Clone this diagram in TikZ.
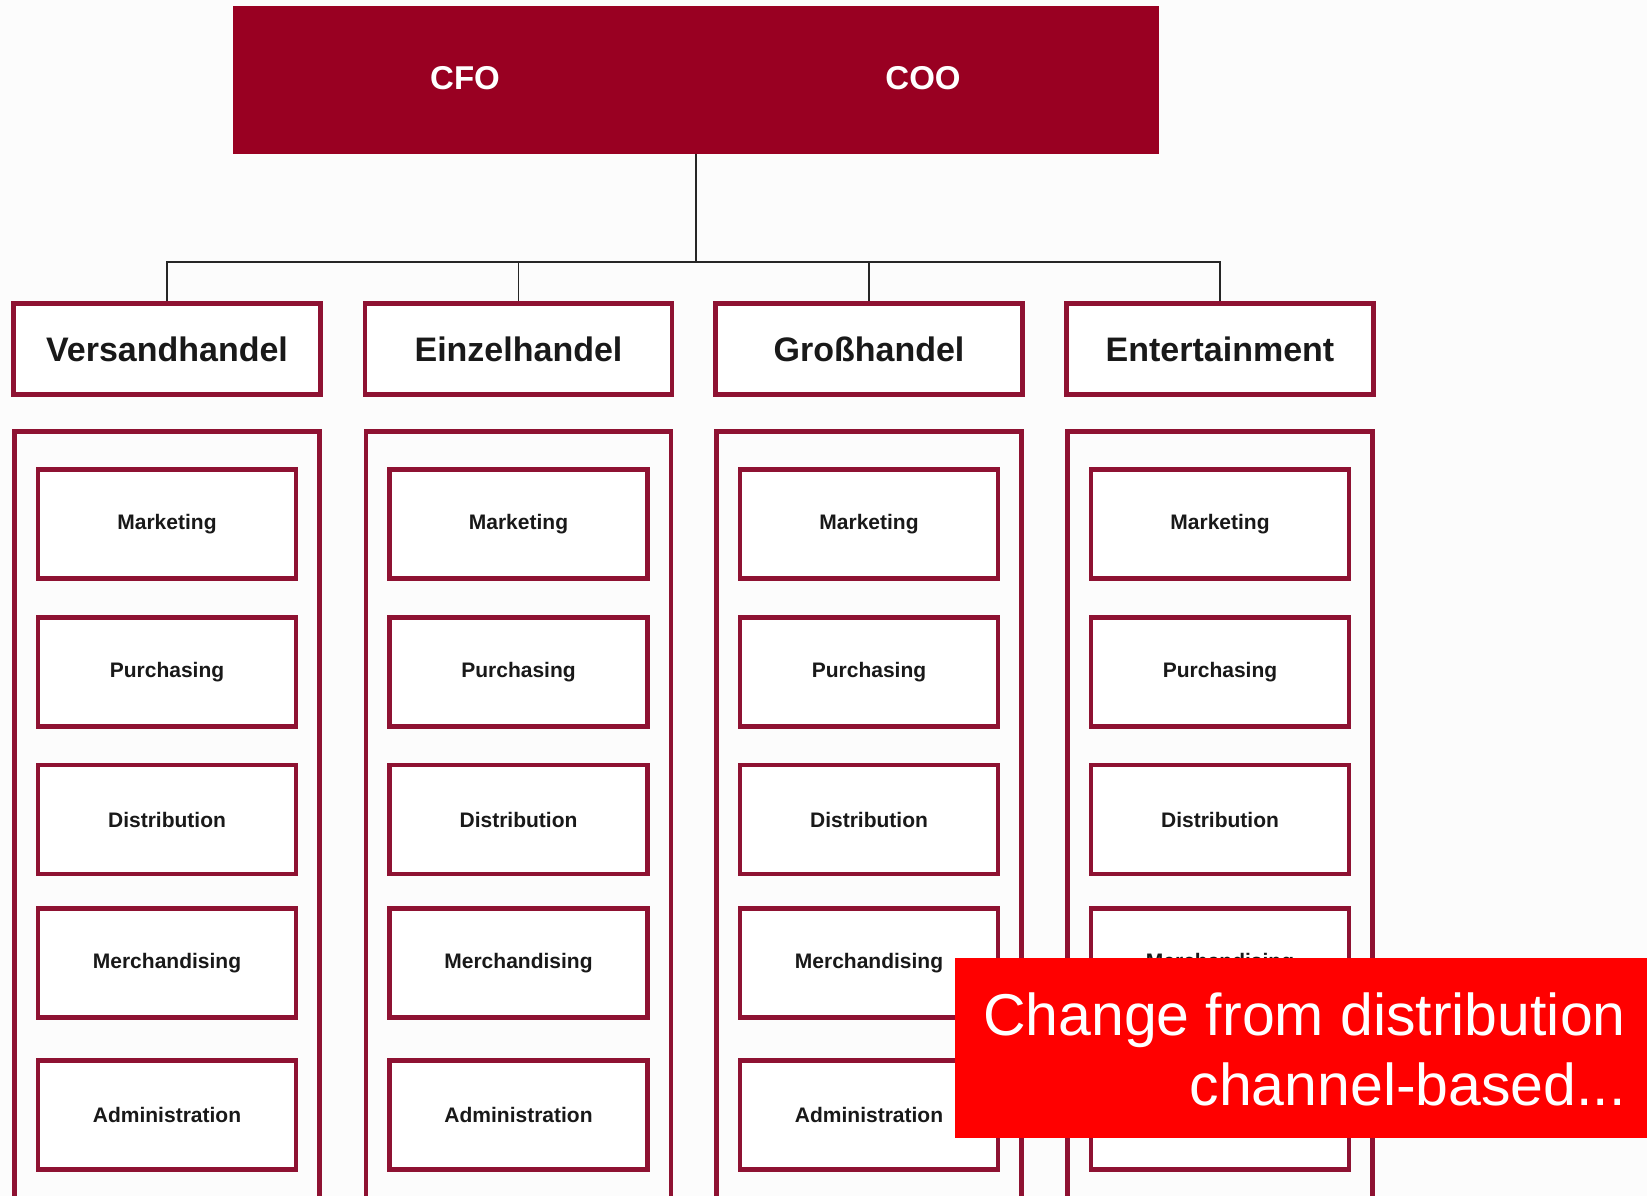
\documentclass[tikz,border=0pt]{standalone}
\usepackage{fontspec}
\setmainfont{Liberation Sans}
\definecolor{topred}{HTML}{990022}
\definecolor{bord}{HTML}{8E1232}
\definecolor{ovred}{HTML}{FF0000}
\definecolor{bg}{HTML}{FCFCFC}
\begin{document}
\begin{tikzpicture}[x=1pt,y=-1pt,
  headbox/.style={draw=bord,line width=4.5pt,fill=white,minimum width=307pt,minimum height=91pt,inner sep=0pt,font=\fontsize{34}{40}\selectfont\bfseries,text=black!90},
  subbox/.style={draw=bord,line width=4.5pt,fill=white,minimum width=258pt,minimum height=109pt,inner sep=0pt,font=\fontsize{21}{25}\selectfont\bfseries,text=black!90},
  colbox/.style={draw=bord,line width=4.5pt},
  conn/.style={draw=black!85,line width=1.8pt},
  toptext/.style={text=white,font=\fontsize{33}{38}\selectfont\bfseries},
  ovtext/.style={text=white,font=\fontsize{59}{70}\selectfont,inner sep=0pt}
]
\useasboundingbox (0,0) rectangle (1647,1196);
\clip (0,0) rectangle (1647,1196);
\fill[bg] (0,0) rectangle (1647,1196);

% top box
\node[fill=topred,minimum width=926pt,minimum height=148pt,inner sep=0pt] (top) at (696,80) {};
\node[toptext] (cfo) at (465,78) {CFO};
\node[toptext] (coo) at (923,78) {COO};

% column outer boxes
\foreach \cx/\nm in {167/c1,518.5/c2,869/c3,1220/c4}{
  \draw[colbox] (\cx-152.5,431.5) rectangle (\cx+152.5,1215);
}

% headers
\node[headbox] (h1) at (167,349) {Versandhandel};
\node[headbox] (h2) at (518.5,349) {Einzelhandel};
\node[headbox] (h3) at (869,349) {Großhandel};
\node[headbox] (h4) at (1220,349) {Entertainment};

% connectors
\coordinate (bus) at (696,262);
\draw[conn] (top.south) -- (bus);
\draw[conn] (h1.north) |- (bus);
\draw[conn] (h2.north) |- (bus);
\draw[conn] (h3.north) |- (bus);
\draw[conn] (h4.north) |- (bus);

% sub boxes
\foreach \cx/\ci in {167/1,518.5/2,869/3,1220/4}{
  \node[subbox] (m\ci) at (\cx,524) {Marketing};
  \node[subbox] (p\ci) at (\cx,672) {Purchasing};
  \node[subbox] (d\ci) at (\cx,819.5) {Distribution};
  \node[subbox] (e\ci) at (\cx,963) {Merchandising};
  \node[subbox] (a\ci) at (\cx,1115) {Administration};
}

% overlay
\fill[ovred] (955,958) rectangle (1660,1138);
\node[ovtext,anchor=base east] (ov1) at (1626,1035) {Change from distribution};
\node[ovtext,anchor=base east] (ov2) at (1626,1105) {channel-based...};
\end{tikzpicture}
\end{document}
